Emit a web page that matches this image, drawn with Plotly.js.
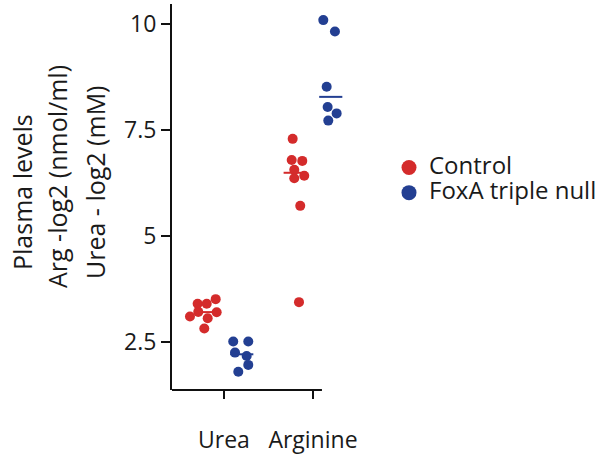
<!DOCTYPE html>
<html>
<head>
<meta charset="utf-8">
<script src="https://cdn.plot.ly/plotly-3.0.1.min.js"></script>
<style>html,body{margin:0;padding:0;background:#fff;}#chart{width:601px;height:462px;}</style>
</head>
<body>
<div id="chart"></div>
<script>
// ---- data ----
const categories = ['Urea', 'Arginine'];
const seriesNames = ['Control', 'FoxA triple null'];

const ureaControl = [3.40, 3.40, 3.51, 3.10, 3.21, 3.06, 3.20, 2.82];
const ureaFoxA    = [2.51, 2.51, 2.25, 2.17, 1.96, 1.80];
const argControl  = [7.29, 6.79, 6.77, 6.56, 6.42, 6.36, 5.71, 3.44];
const argFoxA     = [10.09, 9.82, 8.52, 8.04, 7.89, 7.72];

// horizontal jitter of each dot (in category units)
const ureaControlJitter = [-0.096, 0.006, 0.107, -0.182, -0.089, 0.017, 0.118, -0.021];
const ureaFoxAJitter    = [-0.096, 0.073, -0.076, 0.055, 0.073, -0.039];
const argControlJitter  = [-0.028, -0.039, 0.080, -0.010, 0.102, -0.010, 0.057, 0.043];
const argFoxAJitter     = [-0.084, 0.047, -0.046, -0.035, 0.066, -0.028];

const yTickVals = [2.5, 5, 7.5, 10];
const yTickText = ['2.5', '5', '7.5', '10'];

// ---- styling ----
const colors = ['#d42b2b', '#233f92'];
const groupOffset = [-0.2, 0.2];
const FONT = 'Open Sans, sans-serif';
const XMIN = 0.416, XAXIS_END = 2.101, XMAX = 2.36;

const groups = [
  [ {v: ureaControl, j: ureaControlJitter}, {v: ureaFoxA, j: ureaFoxAJitter} ],
  [ {v: argControl,  j: argControlJitter},  {v: argFoxA,  j: argFoxAJitter} ]
];

function median(a) {
  const s = a.slice().sort((p, q) => p - q);
  const n = s.length;
  return n % 2 ? s[(n - 1) / 2] : (s[n / 2 - 1] + s[n / 2]) / 2;
}

const traces = [];
// median lines (drawn under dots)
groups.forEach((cat, ci) => {
  cat.forEach((g, gi) => {
    const c = ci + 1 + groupOffset[gi];
    const m = median(g.v);
    traces.push({
      type: 'scatter', mode: 'lines',
      x: [c - 0.13, c + 0.13], y: [m, m],
      line: {color: colors[gi], width: 2},
      showlegend: false, hoverinfo: 'skip', cliponaxis: false
    });
  });
});
// dots
groups.forEach((cat, ci) => {
  cat.forEach((g, gi) => {
    const c = ci + 1 + groupOffset[gi];
    traces.push({
      type: 'scatter', mode: 'markers',
      x: g.v.map((_, k) => c + g.j[k]), y: g.v,
      marker: {color: colors[gi], size: 10},
      showlegend: false, cliponaxis: false, name: seriesNames[gi]
    });
  });
});
// legend entries
seriesNames.forEach((n, gi) => {
  traces.push({
    type: 'scatter', mode: 'markers', x: [null], y: [null],
    name: '<span style="font-size:24px">' + n + '</span>',
    marker: {color: colors[gi], size: 15}, showlegend: true
  });
});

const L = 172, R = 345, T = 4, B = 390;
const W = 601, H = 462;
const px = x => (x - L) / (R - L);
const py = y => (B - y) / (B - T);

const layout = {
  width: W, height: H,
  margin: {l: L, r: W - R, t: T, b: H - B, pad: 0, autoexpand: false},
  paper_bgcolor: '#fff', plot_bgcolor: '#fff',
  font: {family: FONT, color: '#1a1a1a', size: 23},
  showlegend: true,
  legend: {
    xref: 'container', yref: 'container',
    x: 389 / W, xanchor: 'left', y: 1 - 150 / H, yanchor: 'top',
    font: {size: 17, family: FONT, color: '#1a1a1a'},
    bgcolor: 'rgba(0,0,0,0)', borderwidth: 0, tracegroupgap: 0
  },
  xaxis: {
    range: [XMIN, XMAX], tickmode: 'array', tickvals: [1, 2], ticktext: categories,
    showgrid: false, zeroline: false, showline: false,
    ticks: 'outside', ticklen: 8, tickwidth: 2, tickcolor: '#111',
    ticklabelstandoff: 21, tickfont: {size: 23, family: FONT, color: '#1a1a1a'},
    fixedrange: true
  },
  yaxis: {
    range: [1.368, 10.47], tickmode: 'array', tickvals: yTickVals, ticktext: yTickText,
    showgrid: false, zeroline: false, showline: true, linecolor: '#111', linewidth: 2,
    ticks: 'outside', ticklen: 9, tickwidth: 2, tickcolor: '#111',
    ticklabelstandoff: 0, tickfont: {size: 23, family: FONT, color: '#1a1a1a'},
    fixedrange: true
  },
  shapes: [{
    type: 'line', xref: 'x', yref: 'paper', x0: XMIN, x1: XAXIS_END, y0: 0, y1: 0,
    line: {color: '#111', width: 2}, layer: 'above'
  }],
  annotations: [
    {text: 'Plasma levels', x: px(22), y: py(192)},
    {text: 'Arg -log2 (nmol/ml)', x: px(57), y: py(177)},
    {text: 'Urea - log2 (mM)', x: px(95), y: py(182)}
  ].map(a => Object.assign({
    xref: 'paper', yref: 'paper', xanchor: 'center', yanchor: 'middle',
    textangle: -90, showarrow: false, font: {size: 25, family: FONT, color: '#1a1a1a'}
  }, a))
};

Plotly.newPlot('chart', traces, layout, {displayModeBar: false, staticPlot: true});
</script>
</body>
</html>
